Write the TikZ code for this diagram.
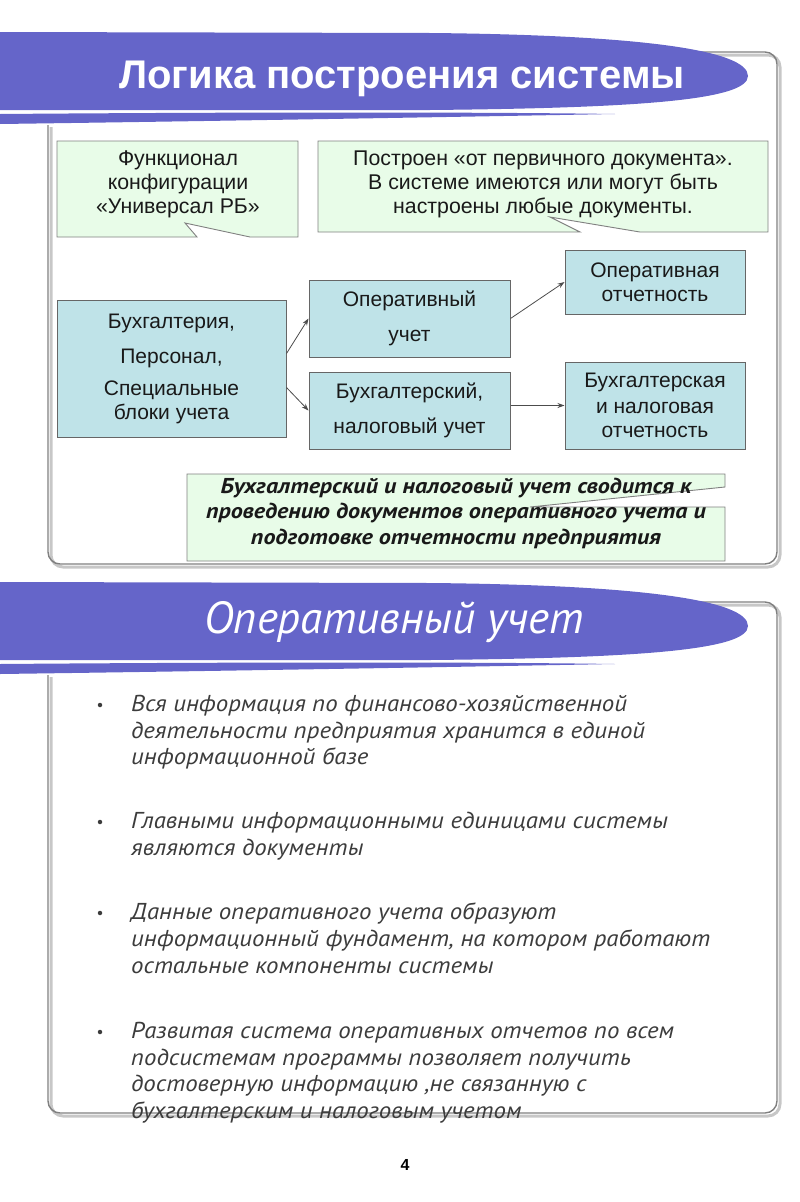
\documentclass[tikz,border=0pt]{standalone}
\usepackage{fontspec}
\setmainfont{Liberation Sans}
\newfontfamily\ptsans{PT Sans}
\newfontfamily\ptwide{PT Sans}[FakeStretch=1.08]
\newfontfamily\ptbroad{PT Sans}[FakeStretch=1.12]
\usetikzlibrary{arrows.meta}
\definecolor{BannerBlue}{HTML}{6565C9}
\definecolor{NoteGreen}{HTML}{E8FCE8}
\definecolor{BoxBlue}{HTML}{BFE3E8}
\definecolor{FrameGrey}{HTML}{808080}
\definecolor{ItemGrey}{HTML}{3C3C3C}

\begin{document}
\begin{tikzpicture}[x=1pt, y=-1pt,
    panel/.style={draw=FrameGrey, line width=1.4pt, rounded corners=12pt},
    panelshadow/.style={draw=black!22, line width=3pt, rounded corners=12pt},
    note/.style={draw=FrameGrey, fill=NoteGreen, line width=0.9pt},
    notetext/.style={align=center, font=\fontsize{21.3}{24}\selectfont, text=black!90},
    block/.style={draw=black!60, fill=BoxBlue, line width=1pt, align=center, inner sep=0pt,
      font=\fontsize{21}{24}\selectfont, text=black!90},
    link/.style={-{Stealth[length=7pt, width=5pt]}, line width=0.8pt, black!70},
    heading/.style={anchor=base, text=white},
    dot/.style={circle, fill=ItemGrey, inner sep=0pt, minimum size=4.5pt},
    item/.style={anchor=north west, align=left, inner sep=0pt, text=ItemGrey,
      font=\ptwide\itshape\fontsize{23}{26.7}\selectfont}
  ]
  \useasboundingbox (0,0) rectangle (800,1202);

  % frames of the two slides
  \draw[panelshadow] (51,127) |- (780,567) |- (690,55);
  \draw[panel] (48,125) |- (777,564) |- (690,52);
  \draw[panelshadow] (51,677) |- (780,1116) |- (690,605);
  \draw[panel] (48,675) |- (777,1113) |- (690,602);

  % banners
  \fill[BannerBlue] (0,32) -- (430,33) .. controls (640,35) and (748,50) .. (748,76)
    .. controls (748,100) and (640,108) .. (430,110) -- (0,110) -- cycle;
  \fill[BannerBlue] (0,114) .. controls (250,112) and (480,112) .. (615,114)
    .. controls (450,117) and (220,121) .. (0,124) -- cycle;
  \begin{scope}[shift={(0,550)}]
    \fill[BannerBlue] (0,32) -- (430,33) .. controls (640,35) and (748,50) .. (748,76)
      .. controls (748,100) and (640,108) .. (430,110) -- (0,110) -- cycle;
    \fill[BannerBlue] (0,114) .. controls (250,112) and (480,112) .. (615,114)
      .. controls (450,117) and (220,121) .. (0,124) -- cycle;
  \end{scope}
  \node[heading, font=\bfseries\fontsize{40}{44}\selectfont] (title1) at (402,88) {Логика построения системы};
  \node[heading, font=\ptsans\itshape\fontsize{45}{50}\selectfont] (title2) at (394,633) {Оперативный учет};

  % callouts
  \filldraw[note] (57,141) -- (298,141) -- (298,237) -- (250,237) -- (185,223) -- (197,237) -- (57,237) -- cycle;
  \node[notetext] (funcnote) at (178,184) {Функционал\\конфигурации\\«Универсал РБ»};
  \filldraw[note] (318,141) -- (768,141) -- (768,232) -- (640,232) -- (550,217) -- (580,232) -- (318,232) -- cycle;
  \node[notetext] (docnote) at (543,184) {Построен «от первичного документа».\\В системе имеются или могут быть\\настроены любые документы.};
  \filldraw[note] (187,474) -- (725,474) -- (725,487) -- (530,507) -- (725,507) -- (725,561) -- (187,561) -- cycle;
  \node[notetext, font=\ptbroad\bfseries\itshape\fontsize{21.5}{25.5}\selectfont] (sumnote) at (456,513)
    {Бухгалтерский и налоговый учет сводится к\\проведению документов оперативного учета и\\подготовке отчетности предприятия};

  % blocks
  \node[block, minimum width=229pt, minimum height=137pt] (acc) at (171.5,368.5)
    {Бухгалтерия,\\[11pt]Персонал,\\[8pt]Специальные\\блоки учета};
  \node[block, minimum width=201pt, minimum height=77pt] (oper) at (409.5,318.5) {Оперативный\\[11pt]учет};
  \node[block, minimum width=201pt, minimum height=77pt] (buh) at (409.5,410.5) {Бухгалтерский,\\[11pt]налоговый учет};
  \node[block, minimum width=180pt, minimum height=64pt] (operrep) at (655,282) {Оперативная\\отчетность};
  \node[block, minimum width=180pt, minimum height=87pt] (buhrep) at (655,405.5) {Бухгалтерская\\[2pt]и налоговая\\отчетность};

  \draw[link] ([yshift=15pt]acc.east) -- (oper.west);
  \draw[link] ([yshift=-19pt]acc.east) -- (buh.west);
  \draw[link] (oper.east) -- (operrep.west);
  \draw[link] (buhrep.west -| buh.east) -- (buhrep.west);

  % bullet list
  \node[dot] (d1) at (100,705) {};
  \node[item] (i1) at (131,695) {Вся информация по финансово-хозяйственной\\деятельности предприятия хранится в единой\\информационной базе};
  \node[dot] (d2) at (100,822) {};
  \node[item] (i2) at (131,812) {Главными информационными единицами системы\\являются документы};
  \node[dot] (d3) at (100,913) {};
  \node[item] (i3) at (131,903) {Данные оперативного учета образуют\\информационный фундамент, на котором работают\\остальные компоненты системы};
  \node[dot] (d4) at (100,1032) {};
  \node[item] (i4) at (131,1022) {Развитая система оперативных отчетов по всем\\подсистемам программы позволяет получить\\достоверную информацию ,не связанную с\\бухгалтерским и налоговым учетом};

  \node[font=\bfseries\fontsize{16}{18}\selectfont] (pagenum) at (405,1165) {4};
\end{tikzpicture}
\end{document}
